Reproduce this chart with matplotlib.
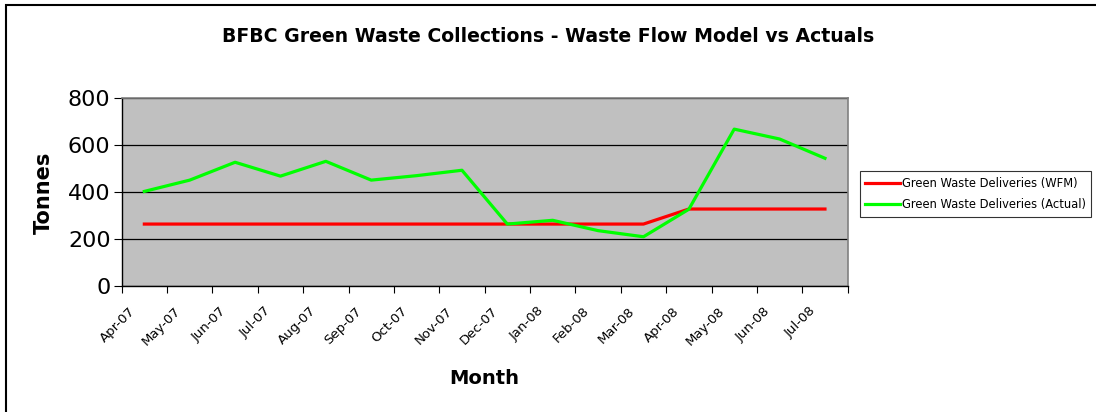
import matplotlib
matplotlib.use("Agg")
import matplotlib.pyplot as plt
import matplotlib.transforms as mtransforms
from matplotlib.patches import Rectangle
import numpy as np

# Datos
meses = ["Apr-07", "May-07", "Jun-07", "Jul-07", "Aug-07", "Sep-07", "Oct-07", "Nov-07",
         "Dec-07", "Jan-08", "Feb-08", "Mar-08", "Apr-08", "May-08", "Jun-08", "Jul-08"]
wfm = [265, 265, 265, 265, 265, 265, 265, 265, 265, 265, 265, 265, 329, 329, 329, 329]
actual = [404, 452, 528, 469, 532, 452, 471, 494, 265, 281, 237, 211, 328, 669, 627, 545]

plt.rcParams['font.family'] = ['DejaVu Sans']

fig = plt.figure(figsize=(10.96, 4.12), dpi=100)
ax = fig.add_axes([0.111, 0.305, 0.6624, 0.4563])

x = np.arange(len(meses))
ax.plot(x, wfm, color="#FF0000", lw=2.3, label="Green Waste Deliveries (WFM)", zorder=3)
ax.plot(x, actual, color="#00FF00", lw=2.3, label="Green Waste Deliveries (Actual)", zorder=4)

ax.set_facecolor("#C0C0C0")
ax.set_xlim(-0.5, len(meses) - 0.5)
ax.set_ylim(0, 800)
ax.set_yticks([0, 200, 400, 600, 800])
ax.yaxis.grid(True, color="black", lw=0.9)
ax.set_axisbelow(True)

# ticks entre categorias, etiquetas en el centro
ax.set_xticks(np.arange(-0.5, len(meses), 1.0))
ax.set_xticklabels([])
ax.set_xticks(x, minor=True)
ax.set_xticklabels(meses, minor=True, rotation=45, ha="right", fontsize=9.5,
                   rotation_mode="anchor")
ax.tick_params(axis="x", which="minor", length=0, pad=13)
ax.tick_params(axis="x", which="major", length=5, color="black")
ax.tick_params(axis="y", length=6, labelsize=16, pad=2)
desplazar = mtransforms.ScaledTranslation(-16 / 100, 0, fig.dpi_scale_trans)
for lbl in ax.get_xticklabels(minor=True):
    lbl.set_transform(lbl.get_transform() + desplazar)

for s in ["top", "right"]:
    ax.spines[s].set_color("#808080")
    ax.spines[s].set_linewidth(1.2)
for s in ["left", "bottom"]:
    ax.spines[s].set_color("black")
    ax.spines[s].set_linewidth(1.0)

ax.set_ylabel("Tonnes", fontsize=15, fontweight="bold", labelpad=10)
ax.set_xlabel("Month", fontsize=14, fontweight="bold", labelpad=15)

fig.text(0.5, 1 - 36 / 412, "BFBC Green Waste Collections - Waste Flow Model vs Actuals",
         ha="center", va="center", fontsize=13.6, fontweight="bold")

leg = fig.legend(loc="center left", bbox_to_anchor=(860 / 1096, 1 - 194 / 412),
                 fontsize=8.3, frameon=True, fancybox=False, handlelength=3.0,
                 handletextpad=0.15, borderpad=0.45, labelspacing=0.75,
                 borderaxespad=0)
leg.get_frame().set_edgecolor("black")
leg.get_frame().set_linewidth(0.8)

# marco exterior del grafico
fig.patches.append(Rectangle((6 / 1096, -0.01), 1.02, 1 - 4.5 / 412 + 0.01,
                             transform=fig.transFigure, fill=False,
                             edgecolor="black", lw=1.5))

fig.savefig("out.png", dpi=100)
